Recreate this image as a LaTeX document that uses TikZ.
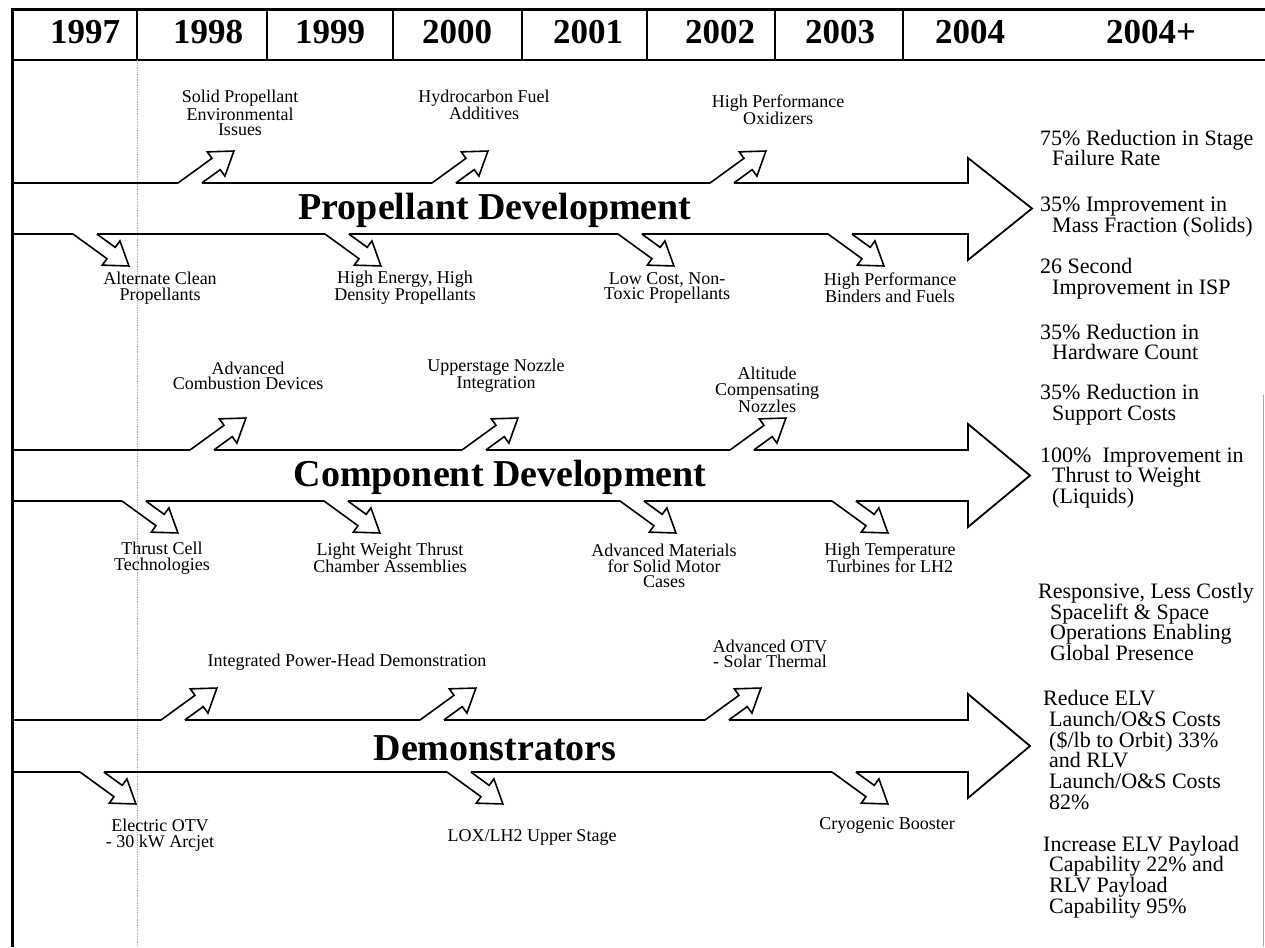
\documentclass[tikz,border=0pt]{standalone}
\usepackage{fontspec}
\setmainfont{Liberation Serif}
\usetikzlibrary{positioning}

% small block arrow leaving a band: base x, line y, 1 = up / -1 = down
\newcommand{\tagarrow}[3]{%
  \begin{scope}[shift={(#1,#2)}, yscale=#3, rotate=36]
    \draw[tagline] (19.3pt,-14pt) -- (42pt,-14pt) -- (42pt,-22pt) -- (64pt,-7pt)
      -- (42pt,8pt) -- (42pt,0pt) -- (0pt,0pt);
  \end{scope}}

\begin{document}
\begin{tikzpicture}[x=1pt, y=-1pt,
    bandline/.style={line width=1.8pt},
    tagline/.style={line width=1.6pt},
    lbl/.style={font=\fontsize{18}{15.5}\selectfont, align=center, inner sep=0pt},
    goal/.style={font=\fontsize{22}{20.8}\selectfont, align=left, anchor=west, inner sep=0pt},
    year/.style={font=\fontsize{35}{35}\selectfont\bfseries},
    title/.style={font=\fontsize{38}{38}\selectfont\bfseries}]
  \useasboundingbox (0,0) rectangle (1265,947);

  % frame and header
  \draw[line width=3pt] (12,8.5) -- (12,947);
  \draw[line width=3pt] (10.5,10) -- (1265,10);
  \draw[line width=1.2pt] (12,60) -- (1265,60);
  \foreach \x in {137,267,393,522,647,775,903}
    \draw[line width=1.2pt] (\x,10) -- (\x,60);
  \draw[gray!60, densely dotted, line width=0.7pt] (137,60) -- (137,947);
  \draw[gray!70, line width=0.8pt] (1263,395) -- (1263,947);
  \foreach \yr/\x in {1997/85, 1998/208, 1999/330, 2000/457, 2001/588, 2002/720, 2003/840, 2004/970}
    \node[year] (y\yr) at (\x,32) {\yr};
  \node[year] (yplus) at (1151,32) {2004+};

  % Propellant band
  \draw[bandline] (13,183) foreach \b in {178,432,710} {-- (\b,183) ++(24,0)}
    -- (968,183) -- (968,158) -- (1032,208.5) -- (968,260) -- (968,234)
    foreach \b in {828,618,325,73} {-- ({\b+24},234) ++(-24,0)} -- (13,234);
  \foreach \b in {178,432,710} \tagarrow{\b}{183}{1};
  \foreach \b in {73,325,618,828} \tagarrow{\b}{234}{-1};
  \node[title] (prop) at (495,210) {Propellant Development};
  \node[lbl] (sp) at (240,113) {Solid Propellant\\Environmental\\Issues};
  \node[lbl] (hf) at (484,105) {Hydrocarbon Fuel\\Additives};
  \node[lbl] (ho) at (778,110) {High Performance\\Oxidizers};
  \node[lbl] (ac) at (160,288) {Alternate Clean\\Propellants};
  \node[lbl] (he) at (405,288) {High Energy, High\\Density Propellants};
  \node[lbl] (lc) at (667,288) {Low Cost, Non-\\Toxic Propellants};
  \node[lbl] (hp) at (890,288) {High Performance\\Binders and Fuels};

  % Component band
  \draw[bandline] (13,450) foreach \b in {190,462,730} {-- (\b,450) ++(24,0)}
    -- (968,450) -- (968,424) -- (1030,475.5) -- (968,527) -- (968,501)
    foreach \b in {832,620,324,122} {-- ({\b+24},501) ++(-24,0)} -- (13,501);
  \foreach \b in {190,462,730} \tagarrow{\b}{450}{1};
  \foreach \b in {122,324,620,832} \tagarrow{\b}{501}{-1};
  \node[title] (comp) at (500,477) {Component Development};
  \node[lbl] (cd) at (248,376) {Advanced\\Combustion Devices};
  \node[lbl] (ni) at (496,376) {Upperstage Nozzle\\Integration};
  \node[lbl] (an) at (767,390) {Altitude\\Compensating\\Nozzles};
  \node[lbl] (tc) at (162,558) {Thrust Cell\\Technologies};
  \node[lbl] (lw) at (390,558) {Light Weight Thrust\\Chamber Assemblies};
  \node[lbl] (am) at (664,566) {Advanced Materials\\for Solid Motor\\Cases};
  \node[lbl] (ht) at (890,558) {High Temperature\\Turbines for LH2};

  % Demonstrators band
  \draw[bandline] (13,720) foreach \b in {161,420,705} {-- (\b,720) ++(24,0)}
    -- (968,720) -- (968,694) -- (1030,746) -- (968,798) -- (968,772)
    foreach \b in {832,447,80} {-- ({\b+24},772) ++(-24,0)} -- (13,772);
  \foreach \b in {161,420,705} \tagarrow{\b}{720}{1};
  \foreach \b in {80,447,832} \tagarrow{\b}{772}{-1};
  \node[title] (demo) at (495,748) {Demonstrators};
  \node[lbl] (ip) at (347,662) {Integrated Power-Head Demonstration};
  \node[lbl] (ao) at (770,654) {Advanced OTV\\- Solar Thermal};
  \node[lbl] (eo) at (160,835) {Electric OTV\\- 30 kW Arcjet};
  \node[lbl] (lx) at (532,837) {LOX/LH2 Upper Stage};
  \node[lbl] (cb) at (887,825) {Cryogenic Booster};

  % goals
  \node[goal] (g1) at (1040,148) {75\% Reduction in Stage\\\hspace*{12pt}Failure Rate};
  \node[goal] (g2) at (1040,217) {35\% Improvement in\\\hspace*{12pt}Mass Fraction (Solids)};
  \node[goal] (g3) at (1040,279) {26 Second\\\hspace*{12pt}Improvement in ISP};
  \node[goal] (g4) at (1040,342) {35\% Reduction in\\\hspace*{12pt}Hardware Count};
  \node[goal] (g5) at (1040,405) {35\% Reduction in\\\hspace*{12pt}Support Costs};
  \node[goal] (g6) at (1040,478) {100\%\ \ Improvement in\\\hspace*{12pt}Thrust to Weight\\\hspace*{12pt}(Liquids)};
  \node[goal] (g7) at (1038,622) {Responsive, Less Costly\\\hspace*{12pt}Spacelift \& Space\\\hspace*{12pt}Operations Enabling\\\hspace*{12pt}Global Presence};
  \node[goal] (g8) at (1043,750) {Reduce ELV\\\hspace*{6pt}Launch/O\&S Costs\\\hspace*{6pt}(\$/lb to Orbit) 33\%\\\hspace*{6pt}and RLV\\\hspace*{6pt}Launch/O\&S Costs\\\hspace*{6pt}82\%};
  \node[goal] (g9) at (1043,877) {Increase ELV Payload\\\hspace*{6pt}Capability 22\% and\\\hspace*{6pt}RLV Payload\\\hspace*{6pt}Capability 95\%};
\end{tikzpicture}
\end{document}
